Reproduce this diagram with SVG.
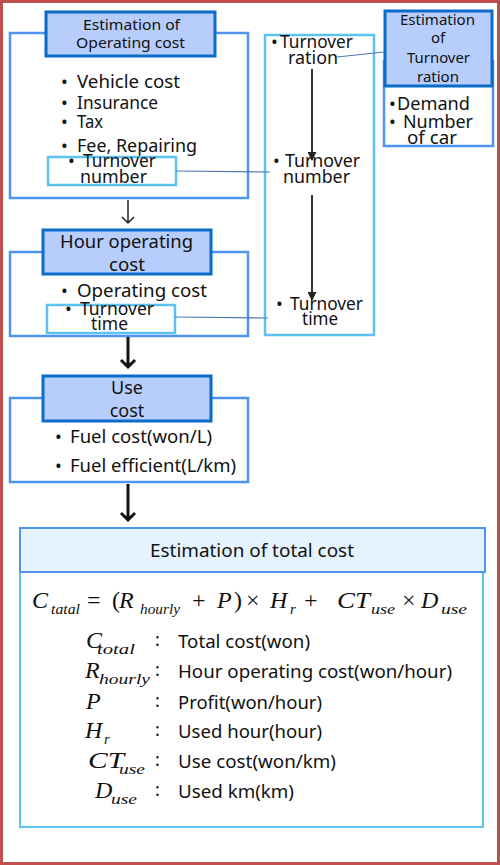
<svg xmlns="http://www.w3.org/2000/svg" width="500" height="865" viewBox="0 0 500 865">
<defs>
<style>
.t{font-family:"Noto Sans","Open Sans",sans-serif;fill:#111;}
.b{font-size:18px;}
.h{font-size:15px;}
.m{font-family:"Liberation Serif","DejaVu Serif",serif;fill:#111;font-size:24px;font-style:italic;}
.o{font-family:"Liberation Serif","DejaVu Serif",serif;fill:#111;font-size:24px;}
.s{font-family:"Liberation Serif","DejaVu Serif",serif;fill:#111;font-size:15px;font-style:italic;}
.outer{fill:#fff;stroke:#4F94F0;stroke-width:2.5;}
.title{fill:#B7CDFB;stroke:#0B6BC8;stroke-width:3;}
.lb{fill:none;stroke:#5BC2F2;stroke-width:2.5;}
.conn{stroke:#4A78B0;stroke-width:1.2;fill:none;}
</style>
<marker id="tri" viewBox="0 0 10 10" refX="9" refY="5" markerWidth="9" markerHeight="9" orient="auto" markerUnits="userSpaceOnUse">
<path d="M0,0 L10,5 L0,10 z" fill="#222"/>
</marker>
</defs>
<rect x="0" y="0" width="500" height="865" fill="#fff"/>
<rect x="1.5" y="1.5" width="497" height="862" fill="none" stroke="#C0504D" stroke-width="3"/>

<g id="turnover-chain">
<rect class="lb" x="265" y="35" width="109" height="300" style="fill:#fff"/>
<text class="t b" x="271" y="48">•</text>
<text class="t b" x="280" y="48" textLength="73" lengthAdjust="spacingAndGlyphs">Turnover</text>
<text class="t b" x="288" y="64" textLength="50" lengthAdjust="spacingAndGlyphs">ration</text>
<text class="t b" x="273" y="167">•</text>
<text class="t b" x="285" y="167" textLength="75" lengthAdjust="spacingAndGlyphs">Turnover</text>
<text class="t b" x="283" y="183" textLength="67" lengthAdjust="spacingAndGlyphs">number</text>
<text class="t b" x="276" y="310">•</text>
<text class="t b" x="290" y="310" textLength="73" lengthAdjust="spacingAndGlyphs">Turnover</text>
<text class="t b" x="302" y="325" textLength="36" lengthAdjust="spacingAndGlyphs">time</text>
</g>

<g id="operating-cost">
<rect class="outer" x="10" y="33" width="238" height="165"/>
<rect class="title" x="46" y="12" width="169" height="44"/>
<text class="t h" x="83" y="30" textLength="97" lengthAdjust="spacingAndGlyphs">Estimation of</text>
<text class="t h" x="76" y="48" textLength="109" lengthAdjust="spacingAndGlyphs">Operating cost</text>
<text class="t b" x="61" y="88">•</text><text class="t b" x="77" y="88" textLength="103" lengthAdjust="spacingAndGlyphs">Vehicle cost</text>
<text class="t b" x="61" y="109">•</text><text class="t b" x="77" y="109" textLength="81" lengthAdjust="spacingAndGlyphs">Insurance</text>
<text class="t b" x="61" y="128">•</text><text class="t b" x="77" y="128" textLength="26" lengthAdjust="spacingAndGlyphs">Tax</text>
<text class="t b" x="61" y="152">•</text><text class="t b" x="77" y="152" textLength="120" lengthAdjust="spacingAndGlyphs">Fee, Repairing</text>
<rect class="lb" x="48" y="157" width="128" height="28"/>
<text class="t b" x="68" y="167">•</text><text class="t b" x="83" y="167" textLength="73" lengthAdjust="spacingAndGlyphs">Turnover</text>
<text class="t b" x="80" y="183" textLength="67" lengthAdjust="spacingAndGlyphs">number</text>
</g>

<g id="turnover-ration">
<rect class="outer" x="384" y="61" width="109" height="85"/>
<rect class="title" x="385" y="11" width="107" height="75"/>
<text class="t h" x="400" y="25" textLength="75" lengthAdjust="spacingAndGlyphs">Estimation</text>
<text class="t h" x="438" y="43" text-anchor="middle">of</text>
<text class="t h" x="407" y="63" textLength="63" lengthAdjust="spacingAndGlyphs">Turnover</text>
<text class="t h" x="417" y="82" textLength="42" lengthAdjust="spacingAndGlyphs">ration</text>
<text class="t b" x="389" y="110">•</text><text class="t b" x="397" y="110" textLength="73" lengthAdjust="spacingAndGlyphs">Demand</text>
<text class="t b" x="389" y="128">•</text><text class="t b" x="403" y="128" textLength="70" lengthAdjust="spacingAndGlyphs">Number</text>
<text class="t b" x="407" y="144" textLength="50" lengthAdjust="spacingAndGlyphs">of car</text>
</g>

<g id="hour-operating-cost">
<rect class="outer" x="10" y="252" width="238" height="84"/>
<rect class="title" x="43" y="230" width="168" height="44"/>
<text class="t b" x="60" y="248" textLength="133" lengthAdjust="spacingAndGlyphs">Hour operating</text>
<text class="t b" x="109" y="271" textLength="36" lengthAdjust="spacingAndGlyphs">cost</text>
<text class="t b" x="61" y="297">•</text><text class="t b" x="77" y="297" textLength="130" lengthAdjust="spacingAndGlyphs">Operating cost</text>
<rect class="lb" x="47" y="305" width="128" height="28"/>
<text class="t b" x="65" y="315">•</text><text class="t b" x="80" y="315" textLength="74" lengthAdjust="spacingAndGlyphs">Turnover</text>
<text class="t b" x="91" y="330" textLength="37" lengthAdjust="spacingAndGlyphs">time</text>
</g>

<g id="use-cost">
<rect class="outer" x="10" y="398" width="238" height="84"/>
<rect class="title" x="43" y="376" width="168" height="45"/>
<text class="t b" x="127" y="394" text-anchor="middle">Use</text>
<text class="t b" x="127" y="417" text-anchor="middle">cost</text>
<text class="t b" x="55" y="443">•</text><text class="t b" x="70" y="443" textLength="142" lengthAdjust="spacingAndGlyphs">Fuel cost(won/L)</text>
<text class="t b" x="55" y="472">•</text><text class="t b" x="70" y="472" textLength="166" lengthAdjust="spacingAndGlyphs">Fuel efficient(L/km)</text>
</g>

<g id="total-cost">
<rect x="20" y="572" width="463" height="255" fill="#fff" stroke="#5BC2F2" stroke-width="2"/>
<rect x="20" y="528" width="465" height="44" fill="#E5F3FF" stroke="#4F94F0" stroke-width="2"/>
<text class="t b" x="150" y="557" textLength="204" lengthAdjust="spacingAndGlyphs">Estimation of total cost</text>
<text class="m" x="32" y="608">C</text>
<text class="s" x="51" y="614" textLength="29" lengthAdjust="spacingAndGlyphs">tatal</text>
<text class="o" x="87" y="608">=</text>
<text class="o" x="112" y="608">(</text>
<text class="m" x="119" y="608">R</text>
<text class="s" x="140" y="614" textLength="40" lengthAdjust="spacingAndGlyphs">hourly</text>
<text class="o" x="192" y="608">+</text>
<text class="m" x="217" y="608">P</text>
<text class="o" x="234" y="608">)</text>
<text class="o" x="246" y="608">×</text>
<text class="m" x="270" y="608">H</text>
<text class="s" x="290" y="614">r</text>
<text class="o" x="304" y="608">+</text>
<text class="m" x="337" y="608" textLength="33" lengthAdjust="spacingAndGlyphs">CT</text>
<text class="s" x="371" y="614" textLength="24" lengthAdjust="spacingAndGlyphs">use</text>
<text class="o" x="402" y="608">×</text>
<text class="m" x="421" y="608">D</text>
<text class="s" x="441" y="614" textLength="26" lengthAdjust="spacingAndGlyphs">use</text>

<text class="m" x="86" y="648">C</text>
<text class="s" x="97" y="654" textLength="38" lengthAdjust="spacingAndGlyphs">total</text>
<text class="m" x="85" y="678">R</text>
<text class="s" x="99" y="684" textLength="51" lengthAdjust="spacingAndGlyphs">hourly</text>
<text class="m" x="86" y="709">P</text>
<text class="m" x="85" y="738">H</text>
<text class="s" x="104" y="744">r</text>
<text class="m" x="88" y="768" textLength="36" lengthAdjust="spacingAndGlyphs">CT</text>
<text class="s" x="119" y="774" textLength="26" lengthAdjust="spacingAndGlyphs">use</text>
<text class="m" x="95" y="798">D</text>
<text class="s" x="111" y="804" textLength="26" lengthAdjust="spacingAndGlyphs">use</text>
<g class="t b">
<text x="155" y="646">:</text>
<text x="155" y="676">:</text>
<text x="155" y="707">:</text>
<text x="155" y="736">:</text>
<text x="155" y="766">:</text>
<text x="155" y="796">:</text>
<text x="178" y="648" textLength="132" lengthAdjust="spacingAndGlyphs">Total cost(won)</text>
<text x="178" y="678" textLength="274" lengthAdjust="spacingAndGlyphs">Hour operating cost(won/hour)</text>
<text x="178" y="709" textLength="144" lengthAdjust="spacingAndGlyphs">Profit(won/hour)</text>
<text x="178" y="738" textLength="144" lengthAdjust="spacingAndGlyphs">Used hour(hour)</text>
<text x="178" y="768" textLength="158" lengthAdjust="spacingAndGlyphs">Use cost(won/km)</text>
<text x="178" y="798" textLength="116" lengthAdjust="spacingAndGlyphs">Used km(km)</text>
</g>
</g>

<g id="connectors" fill="none">
<line class="conn" x1="176" y1="171" x2="270" y2="172"/>
<line class="conn" x1="175" y1="317" x2="268" y2="318"/>
<line class="conn" x1="337" y1="57" x2="384" y2="52"/>
<line x1="312" y1="69" x2="312" y2="160" stroke="#333" stroke-width="2" marker-end="url(#tri)"/>
<line x1="312" y1="195" x2="312" y2="300" stroke="#333" stroke-width="2" marker-end="url(#tri)"/>
<path d="M128,200 V223 M122,217 L128,223 L134,217" stroke="#222" stroke-width="1.5"/>
<path d="M128,337 V367 M121,360 L128,367 L135,360" stroke="#111" stroke-width="3"/>
<path d="M128,484 V520 M121,513 L128,520 L135,513" stroke="#111" stroke-width="3"/>
</g>
</svg>
